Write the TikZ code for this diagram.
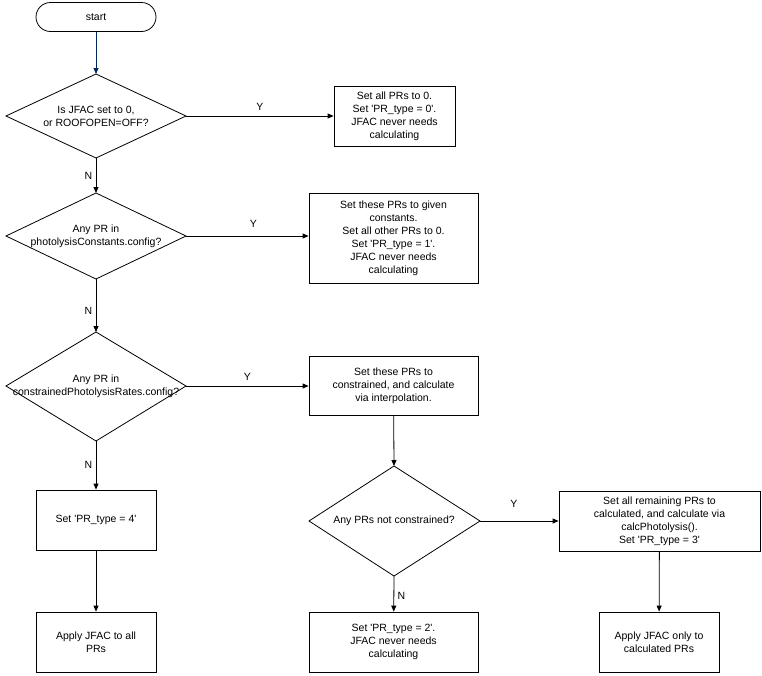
\documentclass[tikz,border=0pt]{standalone}
\usepackage{fontspec}
\setmainfont{Liberation Sans}
\usetikzlibrary{shapes.geometric,arrows.meta}
\newcommand{\q}{\textquotesingle}
\begin{document}
\begin{tikzpicture}[x=1pt,y=-1pt,
  every node/.style={font=\fontsize{10.5}{13}\selectfont, align=center},
  lab/.style={font=\fontsize{10.5}{13}\selectfont},
  arr/.style={thick, -{Triangle[length=6pt,width=5pt]}}]
\useasboundingbox (0,0) rectangle (762,675);
\node[draw, thick, rounded corners=14.5pt, minimum width=120pt, minimum height=29pt] (s) at (96,17) {start};
\path[draw,thick] (96,74) -- (186,116) -- (96,158) -- (6,116) -- cycle;
\coordinate (d1t) at (96,74); \coordinate (d1r) at (186,116); \coordinate (d1b) at (96,158);
\node (d1) at (96,116) {Is JFAC set to 0,\\or ROOFOPEN=OFF?};
\path[draw,thick] (96,193) -- (186,236) -- (96,279) -- (6,236) -- cycle;
\coordinate (d2t) at (96,193); \coordinate (d2r) at (186,236); \coordinate (d2b) at (96,279);
\node (d2) at (96,236) {Any PR in\\photolysisConstants.config?};
\path[draw,thick] (96,332) -- (186,386) -- (96,441) -- (6,386) -- cycle;
\coordinate (d3t) at (96,332); \coordinate (d3r) at (186,386); \coordinate (d3b) at (96,441);
\node (d3) at (96,386) {Any PR in\\constrainedPhotolysisRates.config?};
\path[draw,thick] (394,466) -- (480,521) -- (394,576) -- (309,521) -- cycle;
\coordinate (d4t) at (394,466); \coordinate (d4r) at (480,521); \coordinate (d4b) at (394,576);
\node (d4) at (394,521) {Any PRs not constrained?};
\node[draw,thick,minimum width=121pt,minimum height=60pt] (b1) at (394.5,116) {Set all PRs to 0.\\Set \q PR\_type = 0\q.\\JFAC never needs\\calculating};
\node[draw,thick,minimum width=169pt,minimum height=90pt] (b2) at (393.5,238) {Set these PRs to given\\constants.\\Set all other PRs to 0.\\Set \q PR\_type = 1\q.\\JFAC never needs\\calculating};
\node[draw,thick,minimum width=169pt,minimum height=59pt] (b3) at (393.5,385.5) {Set these PRs to\\constrained, and calculate\\via interpolation.};
\node[draw,thick,minimum width=120pt,minimum height=60pt] (b4) at (96,520) {Set \q PR\_type = 4\q};
\node[draw,thick,minimum width=201pt,minimum height=60pt] (b5) at (659.5,521) {Set all remaining PRs to\\calculated, and calculate via\\calcPhotolysis().\\Set \q PR\_type = 3\q};
\node[draw,thick,minimum width=120pt,minimum height=60pt] (b6) at (96,642) {Apply JFAC to all\\PRs};
\node[draw,thick,minimum width=169pt,minimum height=60pt] (b7) at (393.5,642) {Set \q PR\_type = 2\q.\\JFAC never needs\\calculating};
\node[draw,thick,minimum width=120pt,minimum height=60pt] (b8) at (659,642) {Apply JFAC only to\\calculated PRs};
\draw[arr, draw={rgb,255:red,0;green,40;blue,90}] (s) -- (d1t);
\draw[arr] (d1r) -- (b1) node[lab, pos=0.5, above=2pt] {Y};
\draw[arr] (d1b) -- (d2t) node[lab, pos=0.5, left=0pt] {N};
\draw[arr] (d2r) -- (b2.west |- d2r) node[lab, pos=0.55, above=5pt] {Y};
\draw[arr] (d2b) -- (d3t) node[lab, pos=0.6, left=0pt] {N};
\draw[arr] (d3r) -- (b3.west |- d3r) node[lab, pos=0.5, above=2pt] {Y};
\draw[arr] (d3b) -- (b4) node[lab, pos=0.5, left=0pt] {N};
\draw[arr] (b3) -- (d4t);
\draw[arr] (d4r) -- (b5) node[lab, pos=0.43, above=10pt] {Y};
\draw[arr] (d4b) -- (b7) node[lab, pos=0.55, right=0pt] {N};
\draw[arr] (b4) -- (b6);
\draw[arr] (b5) -- (b8);
\end{tikzpicture}
\end{document}
